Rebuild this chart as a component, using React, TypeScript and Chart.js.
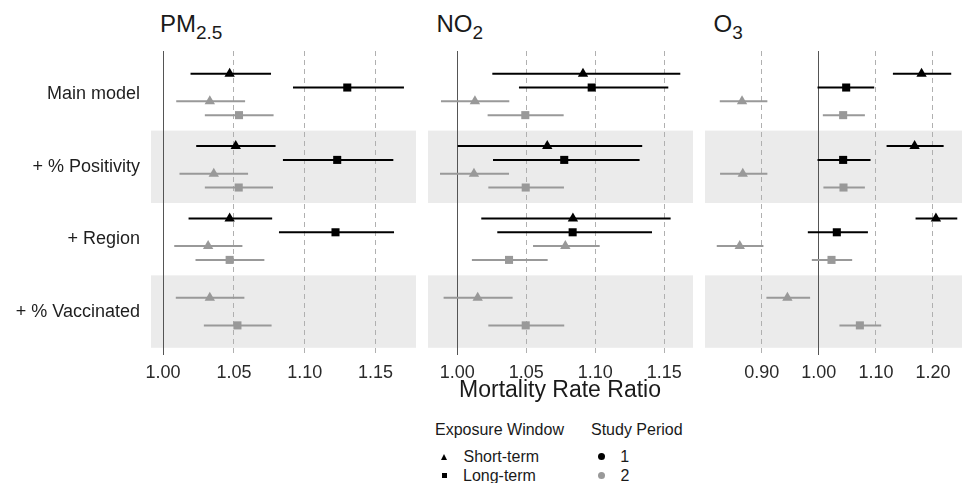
import React, { useEffect, useRef } from "react";
import { Chart, registerables } from "chart.js";

Chart.register(...registerables);

const FONT = "'Liberation Sans', Arial, Helvetica, sans-serif";
Chart.defaults.font.family = FONT;

// ---------- data ----------
const rowLabels = ["Main model", "+ % Positivity", "+ Region", "+ % Vaccinated"];
const bandRows = [2, 4];

// PM2.5
const pmST1Est = [1.047, 1.0513, 1.047, null];
const pmST1Lo = [1.0194, 1.0234, 1.018, null];
const pmST1Hi = [1.0762, 1.0794, 1.077, null];
const pmLT1Est = [1.13, 1.1229, 1.1217, null];
const pmLT1Lo = [1.0917, 1.0846, 1.0818, null];
const pmLT1Hi = [1.17, 1.1625, 1.163, null];
const pmST2Est = [1.033, 1.0358, 1.0318, 1.033];
const pmST2Lo = [1.0093, 1.0116, 1.0079, 1.009];
const pmST2Hi = [1.0579, 1.06, 1.056, 1.0574];
const pmLT2Est = [1.0536, 1.0534, 1.047, 1.0525];
const pmLT2Lo = [1.0295, 1.0295, 1.0229, 1.0288];
const pmLT2Hi = [1.078, 1.0776, 1.0715, 1.0766];

// NO2
const no2ST1Est = [1.0911, 1.0652, 1.0838, null];
const no2ST1Lo = [1.0254, 1.0003, 1.0174, null];
const no2ST1Hi = [1.1616, 1.134, 1.1546, null];
const no2LT1Est = [1.0974, 1.0775, 1.0836, null];
const no2LT1Lo = [1.0447, 1.0259, 1.029, null];
const no2LT1Hi = [1.1529, 1.1321, 1.1411, null];
const no2ST2Est = [1.0128, 1.0121, 1.0783, 1.0148];
const no2ST2Lo = [0.9882, 0.9875, 1.0549, 0.9901];
const no2ST2Hi = [1.0377, 1.0375, 1.1032, 1.0401];
const no2LT2Est = [1.0493, 1.0496, 1.0375, 1.0496];
const no2LT2Lo = [1.022, 1.0225, 1.0106, 1.0225];
const no2LT2Hi = [1.0771, 1.0773, 1.0655, 1.0775];

// O3
const o3ST1Est = [1.18, 1.1678, 1.2052, null];
const o3ST1Lo = [1.1298, 1.1187, 1.1695, null];
const o3ST1Hi = [1.232, 1.2187, 1.2426, null];
const o3LT1Est = [1.0479, 1.0426, 1.0315, null];
const o3LT1Lo = [0.9977, 0.9977, 0.9807, null];
const o3LT1Hi = [1.097, 1.0906, 1.086, null];
const o3ST2Est = [0.8654, 0.8667, 0.8614, 0.9449];
const o3ST2Lo = [0.8264, 0.8269, 0.8211, 0.9081];
const o3ST2Hi = [0.9098, 0.9098, 0.9029, 0.9847];
const o3LT2Est = [1.0426, 1.0432, 1.0222, 1.0719];
const o3LT2Lo = [1.007, 1.008, 0.9877, 1.0361];
const o3LT2Hi = [1.0807, 1.0807, 1.0584, 1.1093];

// axes
const pmTicks = [1.0, 1.05, 1.1, 1.15];
const pmTickLabels = ["1.00", "1.05", "1.10", "1.15"];
const no2Ticks = [1.0, 1.05, 1.1, 1.15];
const no2TickLabels = ["1.00", "1.05", "1.10", "1.15"];
const o3Ticks = [0.8, 0.9, 1.0, 1.1, 1.2];
const o3TickLabels = ["", "0.90", "1.00", "1.10", "1.20"];
const pmRange = [0.9915, 1.1785];
const no2Range = [0.9788, 1.1708];
const o3Range = [0.8005, 1.2649];

// ---------- styling / layout ----------
const BLACK = "#000000";
const GREY = "#999999";
const PANEL_TOP = 51;
const PLOT_H = 304;
const XAXIS_H = 40;
const YAXIS_W = 151;
const DODGE = 0.763;

type Series = {
  est: (number | null)[];
  lo: (number | null)[];
  hi: (number | null)[];
  color: string;
  shape: string;
};

function makeSeries(
  st1: any[][], lt1: any[][], st2: any[][], lt2: any[][]
): Series[] {
  return [
    { est: st1[0], lo: st1[1], hi: st1[2], color: BLACK, shape: "triangle" },
    { est: lt1[0], lo: lt1[1], hi: lt1[2], color: BLACK, shape: "rect" },
    { est: st2[0], lo: st2[1], hi: st2[2], color: GREY, shape: "triangle" },
    { est: lt2[0], lo: lt2[1], hi: lt2[2], color: GREY, shape: "rect" },
  ];
}

const pmSeries = makeSeries(
  [pmST1Est, pmST1Lo, pmST1Hi],
  [pmLT1Est, pmLT1Lo, pmLT1Hi],
  [pmST2Est, pmST2Lo, pmST2Hi],
  [pmLT2Est, pmLT2Lo, pmLT2Hi]
);
const no2Series = makeSeries(
  [no2ST1Est, no2ST1Lo, no2ST1Hi],
  [no2LT1Est, no2LT1Lo, no2LT1Hi],
  [no2ST2Est, no2ST2Lo, no2ST2Hi],
  [no2LT2Est, no2LT2Lo, no2LT2Hi]
);
const o3Series = makeSeries(
  [o3ST1Est, o3ST1Lo, o3ST1Hi],
  [o3LT1Est, o3LT1Lo, o3LT1Hi],
  [o3ST2Est, o3ST2Lo, o3ST2Hi],
  [o3LT2Est, o3LT2Lo, o3LT2Hi]
);

function buildDatasets(series: Series[]) {
  const bars: any[] = [];
  const markers: any[] = [];
  series.forEach((s, si) => {
    const pts: any[] = [];
    s.est.forEach((e, r) => {
      if (e == null) return;
      const present = series
        .map((t, ti) => (t.est[r] != null ? ti : -1))
        .filter((i) => i >= 0);
      const n = present.length;
      const k = present.indexOf(si);
      const y = r + 1 + (k - (n - 1) / 2) * (DODGE / n);
      pts.push({ x: e, y });
      bars.push({
        data: [
          { x: s.lo[r], y },
          { x: s.hi[r], y },
        ],
        showLine: true,
        borderColor: s.color,
        backgroundColor: s.color,
        borderWidth: 2,
        pointRadius: 0,
        order: 1,
      });
    });
    markers.push({
      data: pts,
      pointStyle: s.shape,
      pointRadius: s.shape === "triangle" ? 6 : 5.7,
      backgroundColor: s.color,
      borderColor: s.color,
      borderWidth: 0,
      order: 0,
    });
  });
  return [...bars, ...markers];
}

const bandPlugin = {
  id: "bands",
  beforeDraw(chart: any) {
    const { ctx, chartArea, scales } = chart;
    const y = scales.y;
    ctx.save();
    ctx.fillStyle = "#ebebeb";
    bandRows.forEach((r) => {
      const t = y.getPixelForValue(r - 0.5);
      const b = y.getPixelForValue(r + 0.5);
      ctx.fillRect(
        chartArea.left,
        Math.min(t, b),
        chartArea.right - chartArea.left,
        Math.abs(b - t)
      );
    });
    ctx.restore();
  },
};

const isOne = (v: number) => Math.abs(v - 1) < 1e-9;

function Panel(props: {
  left: number;
  plotWidth: number;
  showY: boolean;
  series: Series[];
  range: number[];
  ticks: number[];
  tickLabels: string[];
}) {
  const ref = useRef<HTMLCanvasElement | null>(null);
  const width = props.plotWidth + (props.showY ? YAXIS_W : 0);
  const height = PLOT_H + XAXIS_H;

  useEffect(() => {
    if (!ref.current) return;
    const chart = new Chart(ref.current, {
      type: "scatter",
      data: { datasets: buildDatasets(props.series) as any },
      options: {
        animation: false,
        responsive: false,
        devicePixelRatio: 1,
        events: [],
        layout: { padding: 0, autoPadding: false },
        plugins: {
          legend: { display: false },
          tooltip: { enabled: false },
          title: { display: false },
        },
        scales: {
          x: {
            type: "linear",
            position: "bottom",
            min: props.range[0],
            max: props.range[1],
            afterBuildTicks: (axis: any) => {
              axis.ticks = props.ticks.map((v) => ({ value: v }));
            },
            afterFit: (axis: any) => {
              axis.height = XAXIS_H;
              axis.paddingLeft = 0;
              axis.paddingRight = 0;
            },
            grid: {
              display: true,
              drawTicks: false,
              drawOnChartArea: true,
              lineWidth: 1,
              color: (ctx: any) =>
                ctx.tick && isOne(ctx.tick.value) ? "#555555" : "#b0b0b0",
            },
            border: {
              display: false,
              dash: (ctx: any) =>
                ctx.tick && isOne(ctx.tick.value) ? [] : [5, 4],
            },
            ticks: {
              autoSkip: false,
              maxRotation: 0,
              minRotation: 0,
              padding: 7,
              color: "#2a2a2a",
              font: { size: 18, family: FONT },
              callback: (_v: any, i: number) => props.tickLabels[i],
            },
          },
          y: {
            type: "linear",
            display: props.showY,
            position: "left",
            min: 0.4,
            max: 4.6,
            reverse: true,
            afterBuildTicks: (axis: any) => {
              axis.ticks = [1, 2, 3, 4].map((v) => ({ value: v }));
            },
            afterFit: (axis: any) => {
              if (props.showY) axis.width = YAXIS_W;
              axis.paddingTop = 0;
              axis.paddingBottom = 0;
            },
            grid: { display: false, drawTicks: false, tickLength: 0 },
            border: { display: false },
            ticks: {
              autoSkip: false,
              padding: 11,
              color: "#1e1e1e",
              font: { size: 18, family: FONT },
              callback: (v: any) => rowLabels[Math.round(Number(v)) - 1],
            },
          },
        },
      } as any,
      plugins: [bandPlugin],
    });
    return () => chart.destroy();
  }, []);

  return (
    <canvas
      ref={ref}
      width={width}
      height={height}
      style={{
        position: "absolute",
        left: props.left,
        top: PANEL_TOP,
        width,
        height,
        display: "block",
      }}
    />
  );
}

function Txt(props: {
  left: number;
  baseline: number;
  size: number;
  children: any;
  width?: number;
  align?: any;
  color?: string;
}) {
  return (
    <div
      style={{
        position: "absolute",
        left: props.left,
        top: props.baseline - 0.8465 * props.size,
        width: props.width,
        textAlign: props.align || "left",
        fontFamily: FONT,
        fontSize: props.size,
        lineHeight: `${props.size}px`,
        color: props.color || "#1a1a1a",
        whiteSpace: "nowrap",
      }}
    >
      {props.children}
    </div>
  );
}

const subStyle = { fontSize: 19, verticalAlign: "-7px" } as any;

export default function App() {
  return (
    <div
      style={{
        position: "absolute",
        left: 0,
        top: 0,
        width: 962,
        height: 483,
        overflow: "hidden",
        background: "#ffffff",
      }}
    >
      <Panel
        left={0}
        plotWidth={265}
        showY={true}
        series={pmSeries}
        range={pmRange}
        ticks={pmTicks}
        tickLabels={pmTickLabels}
      />
      <Panel
        left={428}
        plotWidth={265}
        showY={false}
        series={no2Series}
        range={no2Range}
        ticks={no2Ticks}
        tickLabels={no2TickLabels}
      />
      <Panel
        left={705}
        plotWidth={265}
        showY={false}
        series={o3Series}
        range={o3Range}
        ticks={o3Ticks}
        tickLabels={o3TickLabels}
      />

      <Txt left={160} baseline={32} size={24}>
        PM<span style={subStyle}>2.5</span>
      </Txt>
      <Txt left={436.5} baseline={32} size={24}>
        NO<span style={subStyle}>2</span>
      </Txt>
      <Txt left={713.5} baseline={32} size={24}>
        O<span style={subStyle}>3</span>
      </Txt>

      <Txt left={360} width={400} align="center" baseline={397} size={23}>
        Mortality Rate Ratio
      </Txt>

      <Txt left={435} baseline={436} size={16}>
        Exposure Window
      </Txt>
      <Txt left={591} baseline={436} size={16}>
        Study Period
      </Txt>
      <div
        style={{
          position: "absolute",
          left: 440.5,
          top: 453.5,
          width: 0,
          height: 0,
          borderLeft: "3.5px solid transparent",
          borderRight: "3.5px solid transparent",
          borderBottom: "6.5px solid #000",
        }}
      />
      <Txt left={463.5} baseline={462.5} size={16}>
        Short-term
      </Txt>
      <div
        style={{
          position: "absolute",
          left: 441.5,
          top: 473.2,
          width: 5,
          height: 5,
          background: "#000",
        }}
      />
      <Txt left={463} baseline={481.8} size={16}>
        Long-term
      </Txt>
      <div
        style={{
          position: "absolute",
          left: 598.2,
          top: 453.2,
          width: 7,
          height: 7,
          borderRadius: "50%",
          background: "#000",
        }}
      />
      <Txt left={620.3} baseline={462.5} size={16}>
        1
      </Txt>
      <div
        style={{
          position: "absolute",
          left: 598.2,
          top: 472.2,
          width: 7,
          height: 7,
          borderRadius: "50%",
          background: GREY,
        }}
      />
      <Txt left={620.5} baseline={481.8} size={16}>
        2
      </Txt>
    </div>
  );
}
